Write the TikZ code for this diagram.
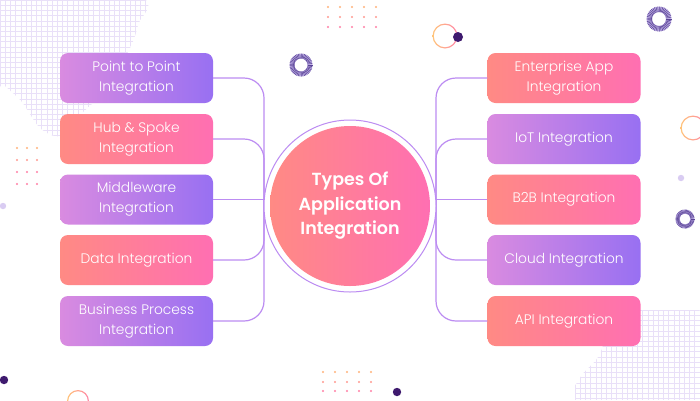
\documentclass[tikz,border=0pt]{standalone}
\usepackage{fontspec}
\setmainfont{Poppins}
\newfontfamily\lightf{Poppins Light}
\newfontfamily\boldf{Poppins SemiBold}
\definecolor{pkL}{HTML}{FF8A84}
\definecolor{pkR}{HTML}{FF6FB2}
\definecolor{puL}{HTML}{D98BE0}
\definecolor{puR}{HTML}{9870F2}
\definecolor{linec}{HTML}{BC8CF2}
\definecolor{gridc}{HTML}{E9E0F8}
\definecolor{darkp}{HTML}{3E1A6E}
\definecolor{sunc}{HTML}{5A4496}
\definecolor{sunbase}{HTML}{C2B2E8}
\definecolor{lilac}{HTML}{D9CCF2}
\definecolor{dotO}{HTML}{FFB27A}
\definecolor{dotM}{HTML}{FF9A90}
\definecolor{dotP}{HTML}{FF7FA6}
\definecolor{ringO}{HTML}{FFC47A}
\definecolor{ringP}{HTML}{FF86A8}
\newcommand\sunburst[3]{%
  \fill[sunbase,even odd rule] (#1) circle (#2) (#1) circle (#3);
  \foreach \a in {0,8,...,352}
    \draw[sunc,line width=0.55pt] (#1) ++(\a:#3) -- ++(\a:#2-#3);
}
\tikzset{
  box/.style={minimum width=153pt, minimum height=50pt, rounded corners=8pt,
    text=white, align=center, inner sep=0pt,
    font=\lightf\fontsize{13.8}{20}\selectfont},
  pinkbox/.style={box, left color=pkL, right color=pkR},
  purplebox/.style={box, left color=puL, right color=puR},
  conn/.style={draw=linec, line width=1.2pt, rounded corners=20pt},
  gridline/.style={draw=gridc, line width=0.5pt}
}
\begin{document}
\begin{tikzpicture}[x=1pt,y=-1pt]
\useasboundingbox (0,0) rectangle (700,400);
\fill[white] (0,0) rectangle (700,400);
% grid blobs
\begin{scope}
  \clip plot[smooth cycle] coordinates {(-2,-2) (140,-2) (138,25) (128,52) (100,95) (80,115) (60,136) (40,128) (22,102) (5,86) (-2,80)};
  \foreach \i in {0,5.2,...,150} \draw[gridline] (\i,0) -- (\i,140);
  \foreach \j in {0,5.2,...,140} \draw[gridline] (0,\j) -- (150,\j);
\end{scope}
\begin{scope}
  \clip plot[smooth cycle] coordinates {(606,313) (702,312) (702,402) (578,402) (580,378) (596,360) (603,345)};
  \foreach \i in {575,580.2,...,700} \draw[gridline] (\i,310) -- (\i,400);
  \foreach \j in {310,315.2,...,400} \draw[gridline] (575,\j) -- (700,\j);
\end{scope}
% dot clusters
\foreach \x in {328,340,352,364,376} \foreach \y/\c in {7/dotO,17/dotM,27/dotP} \fill[\c] (\x,\y) circle (1.2);
\foreach \x in {323,335,347,359,371} \foreach \y/\c in {372/dotO,382/dotM,391/dotP} \fill[\c] (\x,\y) circle (1.2);
\foreach \x in {17,27,37} \foreach \y/\c in {148/dotO,160/dotM,172/dotP,184/dotP} \fill[\c] (\x,\y) circle (1.2);
% sunbursts
\coordinate (S1) at (301,65);
\coordinate (S2) at (659,19);
\coordinate (S3) at (685,219);
\sunburst{S1}{11.5}{6.5}
\sunburst{S2}{12.5}{7}
\sunburst{S3}{9.5}{5.5}
% gradient rings and dots
\shade[left color=ringO, right color=ringP, even odd rule] (445,36) circle (12.5) (445,36) circle (11.3);
\fill[darkp] (458,37) circle (5);
\shade[left color=ringO, right color=ringP, even odd rule] (693,128) circle (12.5) (693,128) circle (11.3);
\shade[left color=ringO, right color=ringP, even odd rule] (78,401) circle (11) (78,401) circle (9.8);
\fill[lilac] (681,178) circle (3.2);
\fill[lilac] (3,206) circle (3.2);
\fill[darkp] (4,380) circle (4.2);
\fill[darkp] (397,392) circle (4.2);
% junctions
\coordinate (Lj) at (264,199.5);
\coordinate (Rj) at (436,199.5);
% boxes
\node[purplebox] (L1) at (136.5,78) {Point to Point\\Integration};
\node[pinkbox] (L2) at (136.5,139) {Hub \& Spoke\\Integration};
\node[purplebox] (L3) at (136.5,199.5) {Middleware\\Integration};
\node[pinkbox] (L4) at (136.5,260) {Data Integration};
\node[purplebox] (L5) at (136.5,321) {Business Process\\Integration};
\node[pinkbox] (R1) at (564,78) {Enterprise App\\Integration};
\node[purplebox] (R2) at (564,139) {IoT Integration};
\node[pinkbox] (R3) at (564,199.5) {B2B Integration};
\node[purplebox] (R4) at (564,260) {Cloud Integration};
\node[pinkbox] (R5) at (564,321) {API Integration};
% connectors
\draw[conn] (L1.east) -| (Lj);
\draw[conn] (L2.east) -| (Lj);
\draw[conn] (L3.east) -- (Lj);
\draw[conn] (L4.east) -| (Lj);
\draw[conn] (L5.east) -| (Lj);
\draw[conn] (R1.west) -| (Rj);
\draw[conn] (R2.west) -| (Rj);
\draw[conn] (R3.west) -- (Rj);
\draw[conn] (R4.west) -| (Rj);
\draw[conn] (R5.west) -| (Rj);
% centre
\node[circle, draw=linec, line width=1pt, minimum size=172pt, inner sep=0pt, fill=white] (CR) at (350,206) {};
\node[circle, minimum size=160pt, inner sep=0pt, left color=pkL, right color=pkR,
  text=white, align=center, font=\boldf\fontsize{17.5}{24.5}\selectfont] (C) at (CR.center) {Types Of\\Application\\Integration};
\end{tikzpicture}
\end{document}
